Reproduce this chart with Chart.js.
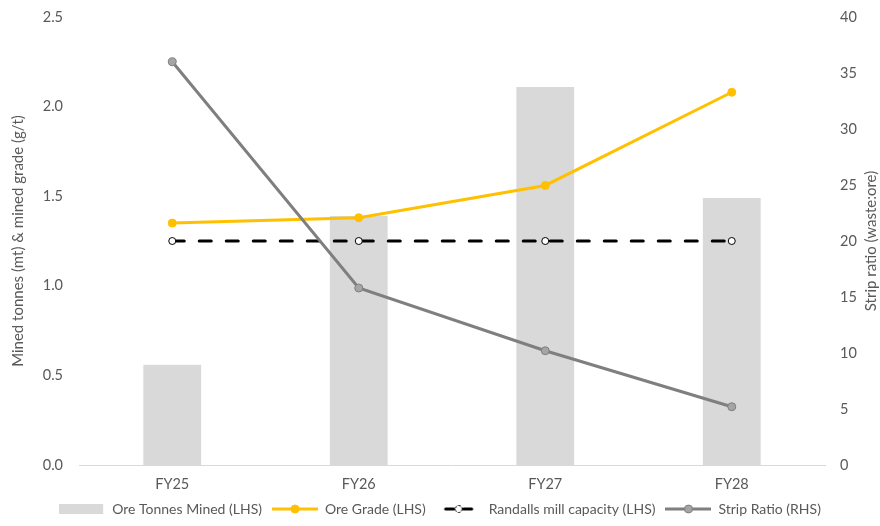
<!DOCTYPE html>
<html>
<head>
<meta charset="utf-8">
<script src="https://cdn.jsdelivr.net/npm/chart.js@4"></script>
<style>
  html, body { margin: 0; padding: 0; background: #fff; }
  #wrap { width: 880px; height: 526px; }
</style>
</head>
<body>
<div id="wrap"><canvas id="chartMine"></canvas></div>
<script>
const categories = ['FY25', 'FY26', 'FY27', 'FY28'];
const oreTonnes = [0.56, 1.39, 2.11, 1.49];
const oreGrade = [1.35, 1.38, 1.56, 2.08];
const millCapacity = [1.25, 1.25, 1.25, 1.25];
const stripRatio = [36.0, 15.8, 10.2, 5.2];

const txt = '#595959';
const fontFam = 'Lato, "Open Sans", sans-serif';

// little canvas icons for the legend
function icon(kind, color) {
  const c = document.createElement('canvas');
  c.width = 46; c.height = 12;
  const g = c.getContext('2d');
  if (kind === 'bar') {
    g.fillStyle = color;
    g.fillRect(0, 1, 44, 10);
  } else if (kind === 'dash') {
    g.strokeStyle = color; g.lineWidth = 3; g.lineCap = 'round';
    g.beginPath(); g.moveTo(10, 6); g.lineTo(18, 6); g.moveTo(28, 6); g.lineTo(36, 6); g.stroke();
    g.lineWidth = 1; g.setLineDash([2, 2]);
    g.beginPath(); g.arc(23, 6, 3.5, 0, Math.PI * 2); g.stroke();
  } else {
    g.strokeStyle = color; g.lineWidth = 3;
    g.beginPath(); g.moveTo(0, 6); g.lineTo(46, 6); g.stroke();
    g.fillStyle = kind === 'grey' ? '#a5a5a5' : color;
    g.strokeStyle = color; g.lineWidth = 1;
    g.beginPath(); g.arc(23, 6, 4, 0, Math.PI * 2); g.fill(); g.stroke();
  }
  return c;
}

// right title reads bottom-to-top like the left one
const rightTitle = {
  id: 'rightTitle',
  afterDraw(chart) {
    const a = chart.chartArea, g = chart.ctx;
    g.save();
    g.translate(871, (a.top + a.bottom) / 2);
    g.rotate(-Math.PI / 2);
    g.font = '15px ' + fontFam;
    g.fillStyle = txt;
    g.textAlign = 'center';
    g.textBaseline = 'middle';
    g.fillText('Strip ratio (waste:ore)', 0, 0);
    g.restore();
  }
};

const ctx = document.getElementById('chartMine');
new Chart(ctx, {
  type: 'bar',
  data: {
    labels: categories,
    datasets: [
      {
        label: 'Ore Tonnes Mined (LHS)',
        data: oreTonnes,
        backgroundColor: '#d9d9d9',
        yAxisID: 'y',
        order: 4,
        categoryPercentage: 1,
        barPercentage: 0.31,
        pointStyle: icon('bar', '#d9d9d9')
      },
      {
        type: 'line',
        label: 'Ore Grade (LHS)',
        data: oreGrade,
        borderColor: '#ffc000',
        backgroundColor: '#ffc000',
        borderWidth: 3,
        pointRadius: 4,
        pointBorderWidth: 1,
        yAxisID: 'y',
        order: 2,
        pointStyle: 'circle',
        legendIcon: icon('line', '#ffc000')
      },
      {
        type: 'line',
        label: 'Randalls mill capacity (LHS)',
        data: millCapacity,
        borderColor: '#000',
        backgroundColor: '#fff',
        borderWidth: 3,
        borderDash: [12, 15],
        borderCapStyle: 'round',
        pointRadius: 3.5,
        pointBorderWidth: 1,
        pointBorderColor: '#000',
        yAxisID: 'y',
        order: 3,
        legendIcon: icon('dash', '#000')
      },
      {
        type: 'line',
        label: 'Strip Ratio (RHS)',
        data: stripRatio,
        borderColor: '#7f7f7f',
        backgroundColor: '#a5a5a5',
        borderWidth: 3,
        pointRadius: 4,
        pointBorderWidth: 1,
        pointBorderColor: '#7f7f7f',
        yAxisID: 'y2',
        order: 1,
        legendIcon: icon('grey', '#7f7f7f')
      }
    ]
  },
  options: {
    responsive: true,
    maintainAspectRatio: false,
    animation: false,
    layout: { padding: { top: 17, left: 0, right: 0, bottom: 0 } },
    font: { family: fontFam, size: 14 },
    plugins: {
      tooltip: { enabled: false },
      legend: {
        position: 'bottom',
        labels: {
          color: txt,
          font: { family: fontFam, size: 14 },
          usePointStyle: true,
          pointStyleWidth: 46,
          boxHeight: 12,
          padding: 10,
          generateLabels(chart) {
            return chart.data.datasets.map((ds, i) => ({
              text: ds.label,
              pointStyle: ds.legendIcon || ds.pointStyle,
              fillStyle: ds.backgroundColor,
              strokeStyle: ds.borderColor,
              lineWidth: 0,
              fontColor: txt,
              hidden: false,
              datasetIndex: i
            }));
          }
        }
      }
    },
    scales: {
      x: {
        grid: { display: false, drawTicks: false },
        border: { display: true, color: '#d9d9d9', width: 1 },
        ticks: { color: txt, font: { family: fontFam, size: 14.5 }, padding: 11 },
        afterFit(s) { s.height = 27; }
      },
      y: {
        position: 'left',
        min: 0, max: 2.5,
        grid: { display: false, drawTicks: false },
        border: { display: false },
        ticks: {
          stepSize: 0.5,
          color: txt,
          font: { family: fontFam, size: 14.5 },
          padding: 16,
          callback: v => v.toFixed(1)
        },
        title: {
          display: true,
          text: 'Mined tonnes (mt) & mined grade (g/t)',
          color: txt,
          font: { family: fontFam, size: 15 },
          padding: { top: 9, bottom: 0 }
        },
        afterFit(s) { s.width = 79; s.paddingTop = 0; s.paddingBottom = 0; }
      },
      y2: {
        position: 'right',
        min: 0, max: 40,
        grid: { display: false, drawTicks: false },
        border: { display: false },
        ticks: { stepSize: 5, color: txt, font: { family: fontFam, size: 14.5 }, padding: 15 },
        afterFit(s) { s.width = 55; s.paddingTop = 0; s.paddingBottom = 0; }
      }
    }
  },
  plugins: [rightTitle]
});
</script>
</body>
</html>
